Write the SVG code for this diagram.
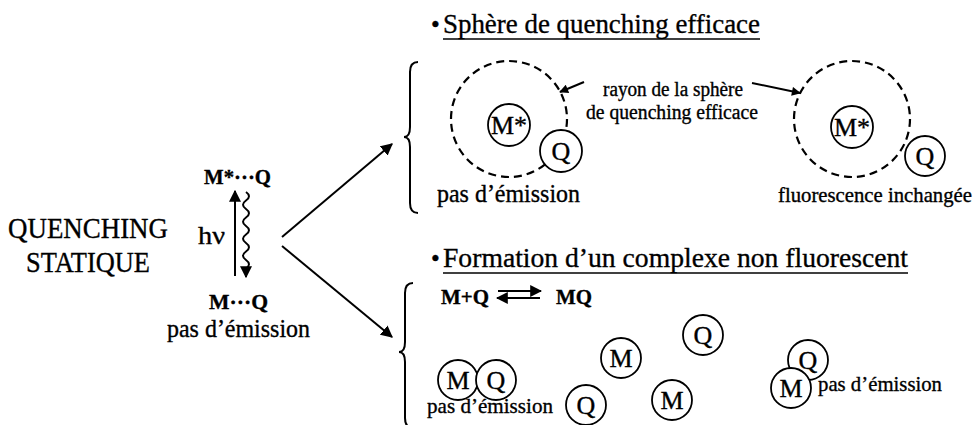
<svg xmlns="http://www.w3.org/2000/svg" width="977" height="425" viewBox="0 0 977 425" font-family="Liberation Serif, Times New Roman, serif">
<style>
text{font-family:"Liberation Serif","Times New Roman",serif;fill:#000;stroke:#000;stroke-width:0.35}
.big{font-size:29px}
.h{font-size:28px}
.b{font-weight:bold;font-size:22px}
.m{font-size:25px}
.c{font-size:26px}
.s{font-size:20px}
.p{font-size:22px}
.ln{stroke:#000;stroke-width:2;fill:none}
.mol{stroke:#000;stroke-width:1.8;fill:#fff}
.dash{stroke:#000;stroke-width:2.2;fill:none;stroke-dasharray:8 5}
</style>
<defs>
<marker id="ah" viewBox="0 0 10 10" refX="9" refY="5" markerWidth="12" markerHeight="12" markerUnits="userSpaceOnUse" orient="auto">
<path d="M0,0 L10,5 L0,10 z" fill="#000"/>
</marker>
<marker id="ahs" viewBox="0 0 10 10" refX="9" refY="5" markerWidth="10" markerHeight="9" markerUnits="userSpaceOnUse" orient="auto">
<path d="M0,0 L10,5 L0,10 z" fill="#000"/>
</marker>
</defs>
<rect width="977" height="425" fill="#fff"/>

<g id="title">
<text class="big" x="88" y="238" text-anchor="middle" textLength="160" lengthAdjust="spacingAndGlyphs">QUENCHING</text>
<text class="big" x="88" y="272" text-anchor="middle" textLength="124" lengthAdjust="spacingAndGlyphs">STATIQUE</text>
</g>

<g id="cycle">
<text class="b" x="204" y="184" textLength="67" lengthAdjust="spacingAndGlyphs">M*···Q</text>
<text class="m" x="198" y="244" textLength="27" lengthAdjust="spacingAndGlyphs">hν</text>
<text class="b" x="209" y="309" textLength="59" lengthAdjust="spacingAndGlyphs">M···Q</text>
<text class="m" x="167" y="337" textLength="143" lengthAdjust="spacingAndGlyphs">pas d’émission</text>
</g>

<g id="connectors">
<line class="ln" x1="235" y1="276" x2="235" y2="191" marker-end="url(#ah)"/>
<path class="ln" stroke-width="1.6" d="M246,192 q6,4.25 0,8.5 t0,8.5 t0,8.5 t0,8.5 t0,8.5 t0,8.5 t0,8.5 t0,8.5 t0,8.5 L246,277" marker-end="url(#ah)"/>
<line class="ln" x1="282" y1="237" x2="392" y2="144" marker-end="url(#ah)"/>
<line class="ln" x1="282" y1="246" x2="392" y2="337" marker-end="url(#ah)"/>
<line class="ln" stroke-width="1.6" x1="584" y1="82" x2="560" y2="92" marker-end="url(#ahs)"/>
<line class="ln" stroke-width="1.6" x1="752" y1="83" x2="800" y2="93" marker-end="url(#ahs)"/>
<line class="ln" x1="498" y1="291" x2="541" y2="291" marker-end="url(#ah)"/>
<line class="ln" x1="540" y1="298" x2="497" y2="298" marker-end="url(#ah)"/>
</g>

<g id="sphere">
<text class="m" x="431" y="33">•</text>
<text class="h" x="443" y="33" textLength="317" lengthAdjust="spacingAndGlyphs">Sphère de quenching efficace</text>
<line x1="443" y1="39" x2="760" y2="39" stroke="#000" stroke-width="1.6"/>
<path class="ln" stroke-width="1.6" d="M418,62 Q410,62 410,72 L410,127 Q410,137 404,137 Q410,137 410,147 L410,203 Q410,213 418,213"/>
</g>

<g id="sphere-left">
<circle class="dash" cx="509" cy="119" r="58"/>
<circle class="mol" cx="509" cy="125" r="21"/>
<text class="c" x="509" y="134" text-anchor="middle">M*</text>
<circle class="mol" cx="561" cy="151" r="21"/>
<text class="c" x="561" y="160" text-anchor="middle">Q</text>
<text class="m" x="437" y="202" textLength="143" lengthAdjust="spacingAndGlyphs">pas d’émission</text>
</g>

<g id="rayon-label">
<text class="s" x="673" y="96" text-anchor="middle" textLength="140" lengthAdjust="spacingAndGlyphs">rayon de la sphère</text>
<text class="s" x="672" y="119" text-anchor="middle" textLength="172" lengthAdjust="spacingAndGlyphs">de quenching efficace</text>
</g>

<g id="sphere-right">
<circle class="dash" cx="852" cy="119" r="58"/>
<circle class="mol" cx="852" cy="127" r="21"/>
<text class="c" x="852" y="136" text-anchor="middle">M*</text>
<circle class="mol" cx="925" cy="156" r="20"/>
<text class="c" x="925" y="165" text-anchor="middle">Q</text>
<text class="m" font-size="21" x="778" y="202" textLength="194" lengthAdjust="spacingAndGlyphs" style="font-size:21px">fluorescence inchangée</text>
</g>

<g id="complexe">
<text class="m" x="431" y="267">•</text>
<text class="h" x="443" y="267" textLength="465" lengthAdjust="spacingAndGlyphs">Formation d’un complexe non fluorescent</text>
<line x1="443" y1="273" x2="908" y2="273" stroke="#000" stroke-width="1.6"/>
<path class="ln" stroke-width="1.6" d="M413,283 Q405,283 405,293 L405,342 Q405,352 399,352 Q405,352 405,362 L405,418 Q405,428 413,428"/>
<text class="b" x="441" y="304" textLength="48" lengthAdjust="spacingAndGlyphs">M+Q</text>
<text class="b" x="556" y="304" textLength="36" lengthAdjust="spacingAndGlyphs">MQ</text>
</g>

<g id="pair-bound">
<circle class="mol" cx="458" cy="380" r="20"/>
<text class="c" x="458" y="389" text-anchor="middle">M</text>
<circle class="mol" cx="496" cy="380" r="20"/>
<text class="c" x="496" y="389" text-anchor="middle">Q</text>
<text class="p" x="427" y="413" textLength="126" lengthAdjust="spacingAndGlyphs">pas d’émission</text>
</g>

<g id="free-molecules">
<circle class="mol" cx="586" cy="405" r="20"/>
<text class="c" x="586" y="414" text-anchor="middle">Q</text>
<circle class="mol" cx="621" cy="358" r="20"/>
<text class="c" x="621" y="367" text-anchor="middle">M</text>
<circle class="mol" cx="703" cy="335" r="20"/>
<text class="c" x="703" y="344" text-anchor="middle">Q</text>
<circle class="mol" cx="672" cy="400" r="20"/>
<text class="c" x="672" y="409" text-anchor="middle">M</text>
</g>

<g id="pair-contact">
<circle class="mol" cx="808" cy="360" r="20"/>
<text class="c" x="808" y="369" text-anchor="middle">Q</text>
<circle class="mol" cx="791" cy="388" r="20"/>
<text class="c" x="791" y="397" text-anchor="middle">M</text>
<text class="p" x="818" y="391" textLength="124" lengthAdjust="spacingAndGlyphs">pas d’émission</text>
</g>
</svg>
